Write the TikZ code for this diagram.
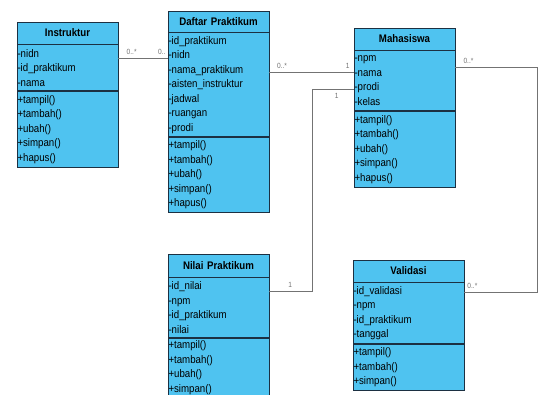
\documentclass[tikz,border=0pt]{standalone}
\usepackage{fontspec}
\setmainfont{Liberation Sans}[FakeStretch=0.88]
\usetikzlibrary{positioning}
\definecolor{classblue}{RGB}{79,195,240}
\definecolor{classedge}{RGB}{28,48,66}
\definecolor{linkgray}{RGB}{115,115,115}
\tikzset{
    %Define style for class name box
    classtitle/.style={
             rectangle,
             draw=classedge, thick,
             fill=classblue,
             text width=100pt,
             inner xsep=0.5pt, inner ysep=0pt,
             align=center,
             font=\fontsize{11}{14.5}\selectfont\bfseries},
    %Define style for attribute and method boxes
    classpart/.style={
             rectangle,
             draw=classedge, thick,
             fill=classblue,
             text width=100pt,
             inner xsep=0.5pt, inner ysep=0pt,
             align=left,
             font=\fontsize{11}{14.5}\selectfont},
    % Define line style
    assoc/.style={
            draw=linkgray,
            line width=0.8pt},
    multlabel/.style={
            text=linkgray,
            inner sep=1pt,
            yshift=2.5pt,
            font=\fontsize{7.5}{8}\selectfont}
}
\begin{document}
\begin{tikzpicture}[x=1pt, y=-1pt]
    \useasboundingbox (0,0) rectangle (538,394);
    % Instruktur
    \node[classtitle, minimum height=22pt] (instr) at (67.5,33) {Instruktur};
    \node[classpart, minimum height=46pt, below=0pt of instr] (instrA) {-nidn\\-id\_praktikum\\-nama};
    \node[classpart, minimum height=76pt, below=0pt of instrA] (instrM) {+tampil()\\+tambah()\\+ubah()\\+simpan()\\+hapus()};
    % Daftar Praktikum
    \node[classtitle, minimum height=21pt] (daf) at (218.5,21.5) {Daftar Praktikum};
    \node[classpart, minimum height=104pt, below=0pt of daf] (dafA) {-id\_praktikum\\-nidn\\-nama\_praktikum\\-aisten\_instruktur\\-jadwal\\-ruangan\\-prodi};
    \node[classpart, minimum height=75pt, below=0pt of dafA] (dafM) {+tampil()\\+tambah()\\+ubah()\\+simpan()\\+hapus()};
    % Mahasiswa
    \node[classtitle, minimum height=22pt] (mhs) at (404.5,39) {Mahasiswa};
    \node[classpart, minimum height=60pt, below=0pt of mhs] (mhsA) {-npm\\-nama\\-prodi\\-kelas};
    \node[classpart, minimum height=76pt, below=0pt of mhsA] (mhsM) {+tampil()\\+tambah()\\+ubah()\\+simpan()\\+hapus()};
    % Nilai Praktikum
    \node[classtitle, minimum height=23pt] (nil) at (218.5,265.5) {Nilai Praktikum};
    \node[classpart, minimum height=60pt, below=0pt of nil] (nilA) {-id\_nilai\\-npm\\-id\_praktikum\\-nilai};
    \node[classpart, minimum height=58pt, below=0pt of nilA] (nilM) {+tampil()\\+tambah()\\+ubah()\\+simpan()};
    % Validasi
    \node[classtitle, minimum height=22pt, text width=110pt] (val) at (408.5,271) {Validasi};
    \node[classpart, minimum height=61pt, text width=110pt, below=0pt of val] (valA) {-id\_validasi\\-npm\\-id\_praktikum\\-tanggal};
    \node[classpart, minimum height=46pt, text width=110pt, below=0pt of valA] (valM) {+tampil()\\+tambah()\\+simpan()};
    % connector ends
    \coordinate (instrR) at ([yshift=9pt]instrA.east);
    \coordinate (dafR) at ([yshift=12pt]dafA.east);
    \coordinate (mhsL) at ([yshift=-9pt]mhsA.west);
    \coordinate (mhsR) at ([yshift=13pt]mhsA.east);
    \coordinate (nilR) at ([yshift=16pt]nilA.east);
    \coordinate (valR) at ([yshift=20.5pt]valA.east);
    \draw[assoc] (instrR) -- node[multlabel, pos=0.27, above] {0..*}
        node[multlabel, pos=0.88, above] {0..} (instrR -| dafA.west);
    \draw[assoc] (dafR) -- node[multlabel, pos=0.15, above] {0..*}
        node[multlabel, pos=0.93, above] {1} (dafR -| mhsA.west);
    \draw[assoc] (mhsL) -- node[multlabel, pos=0.41, below, yshift=-5pt] {1} ++(-41,0)
        |- node[multlabel, pos=0.76, above] {1} (nilR);
    \draw[assoc] (mhsR) -- node[multlabel, pos=0.16, above] {0..*} ++(82,0)
        |- node[multlabel, pos=0.945, above] {0..*} (valR);
  \end{tikzpicture}
\end{document}
